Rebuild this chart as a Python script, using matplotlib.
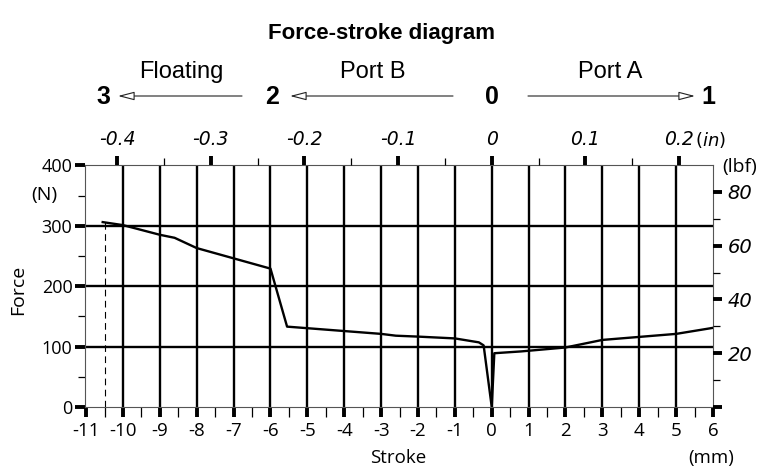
import matplotlib
matplotlib.use('Agg')
import matplotlib.pyplot as plt
from matplotlib.patches import FancyArrowPatch
from matplotlib.ticker import FixedLocator, FixedFormatter

# measured force along the stroke (mm -> N)
stroke_mm = [-10.55, -10.0, -9.0, -8.6, -8.0, -7.0, -6.0, -5.55, -3.0, -2.6,
             -2.0, -1.0, -0.35, -0.22, 0.0, 0.07, 0.8, 2.0, 3.0, 4.0, 5.0, 6.0]
force_n = [306, 301, 285, 280, 263, 246, 229, 133, 121, 118,
           116.5, 113.5, 107, 102, 0, 89, 92, 98.5, 111, 116, 121, 131]

# end of travel marker (floating position)
float_end_mm = -10.5

mm_ticks = list(range(-11, 7))
mm_labels = [str(v) for v in mm_ticks]
n_ticks = [0, 100, 200, 300, 400]
n_labels = ['0', '100', '200', '300', '400']
in_ticks = [-0.4, -0.3, -0.2, -0.1, 0.0, 0.1, 0.2]
in_labels = ['-0.4', '-0.3', '-0.2', '-0.1', '0', '0.1', '0.2']
lbf_ticks = [0, 20, 40, 60, 80]
lbf_labels = ['', '20', '40', '60', '80']

N_PER_LBF = 4.44822
MM_PER_IN = 25.4

W, H = 762, 468
fig = plt.figure(figsize=(W / 100, H / 100), dpi=100)
ax = fig.add_axes([85 / W, 1 - 407 / H, 628 / W, 241.7 / H])

sans = 'Open Sans'
head = 'Liberation Sans'

x_lim = (-11.03, 6.0)
y_lim = (0, 400)
ax.set_xlim(*x_lim)
ax.set_ylim(*y_lim)

# grid drawn by hand so that it stays inside the frame
for x in mm_ticks[1:-1]:
    ax.axvline(x, color='black', lw=1.7, zorder=1)
for y in n_ticks[1:-1]:
    ax.axhline(y, color='black', lw=1.7, zorder=1)

ax.plot(stroke_mm, force_n, color='black', lw=1.7, zorder=3,
        solid_joinstyle='round')
ax.plot([float_end_mm, float_end_mm], [0, force_n[0]], color='black',
        lw=0.8, dashes=(6, 4), zorder=2)

for s in ax.spines.values():
    s.set_color('#555555')
    s.set_linewidth(0.8)

# bottom: mm
ax.xaxis.set_major_locator(FixedLocator(mm_ticks))
ax.xaxis.set_major_formatter(FixedFormatter(mm_labels))
ax.xaxis.set_minor_locator(FixedLocator([v + 0.5 for v in mm_ticks[:-1]]))
ax.tick_params(axis='x', which='major', direction='out', length=7, width=2.8,
               pad=4, labelsize=13.5, labelfontfamily=sans)
ax.tick_params(axis='x', which='minor', direction='out', length=7, width=0.9)

# left: N
ax.yaxis.set_major_locator(FixedLocator(n_ticks))
ax.yaxis.set_major_formatter(FixedFormatter(n_labels))
ax.yaxis.set_minor_locator(FixedLocator([50, 150, 250, 350]))
ax.tick_params(axis='y', which='major', direction='out', length=7, width=2.8,
               pad=2, labelsize=13, labelfontfamily=sans)
ax.tick_params(axis='y', which='minor', direction='out', length=5, width=0.9)

# top: inches on a twin axis with converted limits
top = ax.twiny()
top.set_xlim(x_lim[0] / MM_PER_IN, x_lim[1] / MM_PER_IN)
top.xaxis.set_major_locator(FixedLocator(in_ticks))
top.xaxis.set_major_formatter(FixedFormatter(in_labels))
top.xaxis.set_minor_locator(FixedLocator([-0.35, -0.25, -0.15, -0.05, 0.05, 0.15]))
top.tick_params(axis='x', which='major', direction='out', length=6.5, width=2.8,
                pad=5, labelsize=13.5, labelfontfamily='DejaVu Sans')
top.tick_params(axis='x', which='minor', direction='out', length=5, width=0.9)
for lbl in top.get_xticklabels():
    lbl.set_fontstyle('italic')

# right: lbf on a twin axis with converted limits
right = ax.twinx()
right.set_ylim(y_lim[0] / N_PER_LBF, y_lim[1] / N_PER_LBF)
right.yaxis.set_major_locator(FixedLocator(lbf_ticks))
right.yaxis.set_major_formatter(FixedFormatter(lbf_labels))
right.yaxis.set_minor_locator(FixedLocator([10, 30, 50, 70]))
right.tick_params(axis='y', which='major', direction='out', length=6.5, width=2.8,
                  pad=4, labelsize=14, labelfontfamily='DejaVu Sans')
right.tick_params(axis='y', which='minor', direction='out', length=5, width=0.9)
for lbl in right.get_yticklabels():
    lbl.set_fontstyle('italic')

for tw in (top, right):
    for s in tw.spines.values():
        s.set_visible(False)


def fpos(x, y):
    return x / W, 1 - y / H


# units and axis names
fig.text(*fpos(44, 195), '(N)', family=sans, size=14, ha='center', va='center')
fig.text(*fpos(740, 167), '(lbf)', family=sans, size=14, ha='center', va='center')
fig.text(*fpos(710, 140), r'($\it{in}$)', family='DejaVu Sans', size=13,
         ha='center', va='center')
fig.text(*fpos(711, 458), '(mm)', family=sans, size=13.5, ha='center', va='center')
fig.text(*fpos(398, 458), 'Stroke', family=sans, size=13.5, ha='center', va='center')
fig.text(*fpos(18, 290), 'Force', family=sans, size=14, ha='center',
         va='center', rotation=90)

fig.text(*fpos(382, 33), 'Force-stroke diagram', family=head, weight='bold',
         size=16, ha='center', va='center')

# switching positions
for lbl, x in [('3', 103), ('2', 272), ('0', 492), ('1', 708)]:
    fig.text(*fpos(x, 97), lbl, family=head, weight='bold', size=18,
             ha='center', va='center')
for lbl, x in [('Floating', 181.5), ('Port B', 372.5), ('Port A', 610)]:
    fig.text(*fpos(x, 72), lbl, family=head, size=17, ha='center', va='center')

for x0, x1 in [(242, 118), (453, 290), (528, 695)]:
    fig.add_artist(FancyArrowPatch(fpos(x0, 96), fpos(x1, 96),
                                   transform=fig.transFigure,
                                   arrowstyle='-|>,head_length=10,head_width=2.6',
                                   mutation_scale=1, fc='white', ec='#222222',
                                   lw=0.8, shrinkA=0, shrinkB=0))

fig.savefig('out.png', dpi=100)
